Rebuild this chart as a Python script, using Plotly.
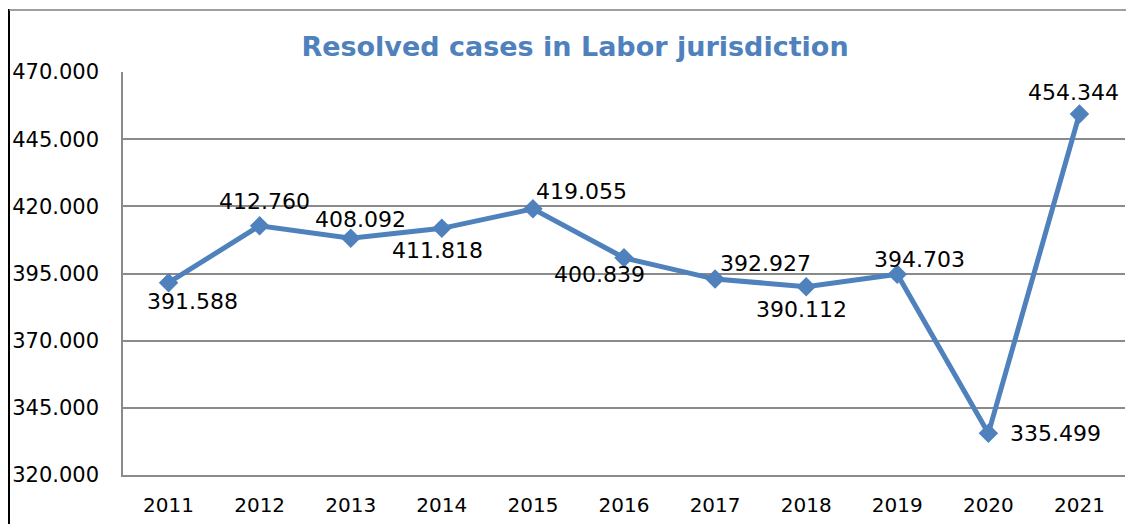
import plotly.graph_objects as go

years = ["2011", "2012", "2013", "2014", "2015", "2016", "2017", "2018", "2019", "2020", "2021"]
resolved = [391588, 412760, 408092, 411818, 419055, 400839, 392927, 390112, 394703, 335499, 454344]
y_ticks = [320000, 345000, 370000, 395000, 420000, 445000, 470000]
title_text = "Resolved cases in Labor jurisdiction"

# label offsets (px) relative to each marker
label_dx = [24, 5, 10, -4, 49, -25, 50, -5, 22, 67, -6]
label_dy = [-19, 24, 19, -22, 17, -17, 16, -23, 15, 0, 22]

OFF = 8  # page body margin
W, H = 1134 - OFF, 524 - OFF
L, T = 123 - OFF, 72 - OFF
R = W - (1125 - OFF)
B = H - (475 - OFF)
BLUE = "#4F81BD"
GRID = "#8A8A8A"
FONT = "DejaVu Sans"

def fmt(v):
    return f"{v:,}".replace(",", ".")

fig = go.Figure()
fig.add_trace(go.Scatter(
    x=years, y=resolved, mode="lines+markers",
    line=dict(color=BLUE, width=5),
    marker=dict(symbol="diamond", size=15, color=BLUE),
    hoverinfo="skip", showlegend=False, cliponaxis=False,
))

annotations = []
for i, (v, dx, dy) in enumerate(zip(resolved, label_dx, label_dy)):
    annotations.append(dict(x=i, y=v, xref="x", yref="y", text=fmt(v),
                            showarrow=False, xshift=dx, yshift=dy,
                            font=dict(family=FONT, size=22, color="black")))

pw, ph = W - L - R, H - T - B
def px_x(p):
    return (p - OFF - L) / pw
def px_y(p):
    return (H - B - (p - OFF)) / ph

shapes = [
    dict(type="line", xref="paper", yref="paper",
         x0=px_x(9), x1=px_x(9), y0=px_y(9), y1=px_y(530),
         line=dict(color="black", width=2)),
    dict(type="line", xref="paper", yref="paper",
         x0=px_x(9), x1=px_x(1140), y0=px_y(10), y1=px_y(10),
         line=dict(color="#7F7F7F", width=1.5)),
]

fig.update_layout(
    width=W, height=H,
    margin=dict(l=L, r=R, t=T, b=B, autoexpand=False),
    paper_bgcolor="white", plot_bgcolor="white",
    separators=",.",
    annotations=annotations,
    shapes=shapes,
    title=dict(text=title_text, x=(575 - OFF) / W, xanchor="center", xref="container",
               y=1 - (47 - OFF) / H, yanchor="middle", yref="container",
               font=dict(family=FONT, size=27, color=BLUE, weight="bold")),
    xaxis=dict(type="category", range=[-0.5, 10.5], showgrid=False,
               showline=True, linecolor=GRID, linewidth=1.5,
               ticks="outside", ticklen=11, tickcolor="rgba(0,0,0,0)",
               tickfont=dict(family=FONT, size=20, color="black"), fixedrange=True),
    yaxis=dict(range=[320000, 470000], tickvals=y_ticks,
               ticktext=[fmt(v) for v in y_ticks],
               showgrid=True, gridcolor=GRID, gridwidth=1.5,
               showline=True, linecolor=GRID, linewidth=1.5, zeroline=False,
               ticks="outside", ticklen=18, tickcolor="rgba(0,0,0,0)",
               tickfont=dict(family=FONT, size=21, color="black"), fixedrange=True),
)

fig.write_html("out.html")
